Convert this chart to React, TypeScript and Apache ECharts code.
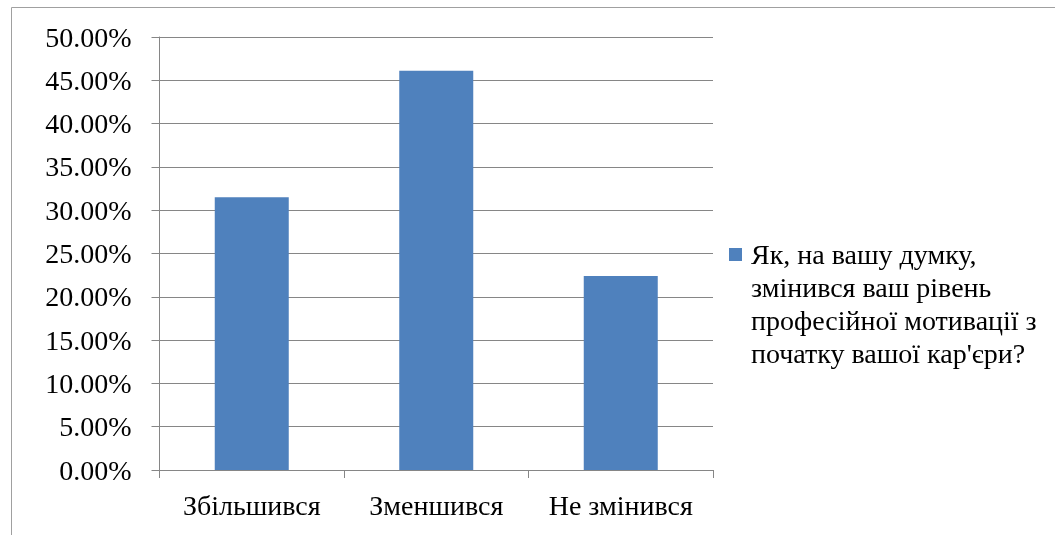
import React, { useEffect, useRef } from "react";
import * as echarts from "echarts";

const categories = ["Збільшився", "Зменшився", "Не змінився"];
const values = [0.315, 0.461, 0.224];
const seriesName = "Як, на вашу думку, змінився ваш рівень професійної мотивації з початку вашої кар'єри?";
const legendLines = ["Як, на вашу думку,", "змінився ваш рівень", "професійної мотивації з", "початку вашої кар'єри?"];

const FONT = "Liberation Serif";
const FS = 28;

export default function App() {
  const ref = useRef<HTMLDivElement>(null);
  useEffect(() => {
    if (!ref.current) return;
    const chart = echarts.init(ref.current, undefined, { renderer: "svg" });
    chart.setOption({
      animation: false,
      grid: { left: 159.5, right: 342, top: 37, bottom: 65 },
      xAxis: {
        type: "category",
        data: categories,
        axisLine: { lineStyle: { color: "#868686", width: 1 } },
        axisTick: { show: true, length: 8, lineStyle: { color: "#868686" } },
        axisLabel: { fontSize: FS, fontFamily: FONT, color: "#000", margin: 21, interval: 0 },
      },
      yAxis: {
        type: "value",
        min: 0,
        max: 0.5,
        interval: 0.05,
        axisLine: { show: true, lineStyle: { color: "#868686", width: 1 } },
        axisTick: { show: true, length: 8, lineStyle: { color: "#868686" } },
        splitLine: { show: true, lineStyle: { color: "#868686", width: 1 } },
        axisLabel: {
          fontSize: FS,
          fontFamily: FONT,
          color: "#000",
          margin: 28,
          formatter: (v: number) => (v * 100).toFixed(2) + "%",
        },
      },
      series: [
        {
          name: seriesName,
          type: "bar",
          data: values,
          barWidth: 74,
          itemStyle: { color: "#4f81bd" },
        },
      ],
      graphic: [
        {
          type: "rect",
          shape: { x: 11.5, y: 7.5, width: 1200, height: 700 },
          style: { fill: "none", stroke: "#a0a0a0", lineWidth: 1 },
          silent: true,
        },
        {
          type: "rect",
          shape: { x: 729, y: 248, width: 13, height: 13 },
          style: { fill: "#4f81bd" },
        },
        {
          type: "text",
          left: 751,
          top: 238,
          style: {
            text: legendLines.join("\n"),
            fontSize: FS,
            fontFamily: FONT,
            lineHeight: 33,
            fill: "#000",
          },
        },
      ],
    });
    return () => chart.dispose();
  }, []);
  return <div ref={ref} style={{ position: "fixed", left: 0, top: 0, width: 1055, height: 535 }} />;
}
